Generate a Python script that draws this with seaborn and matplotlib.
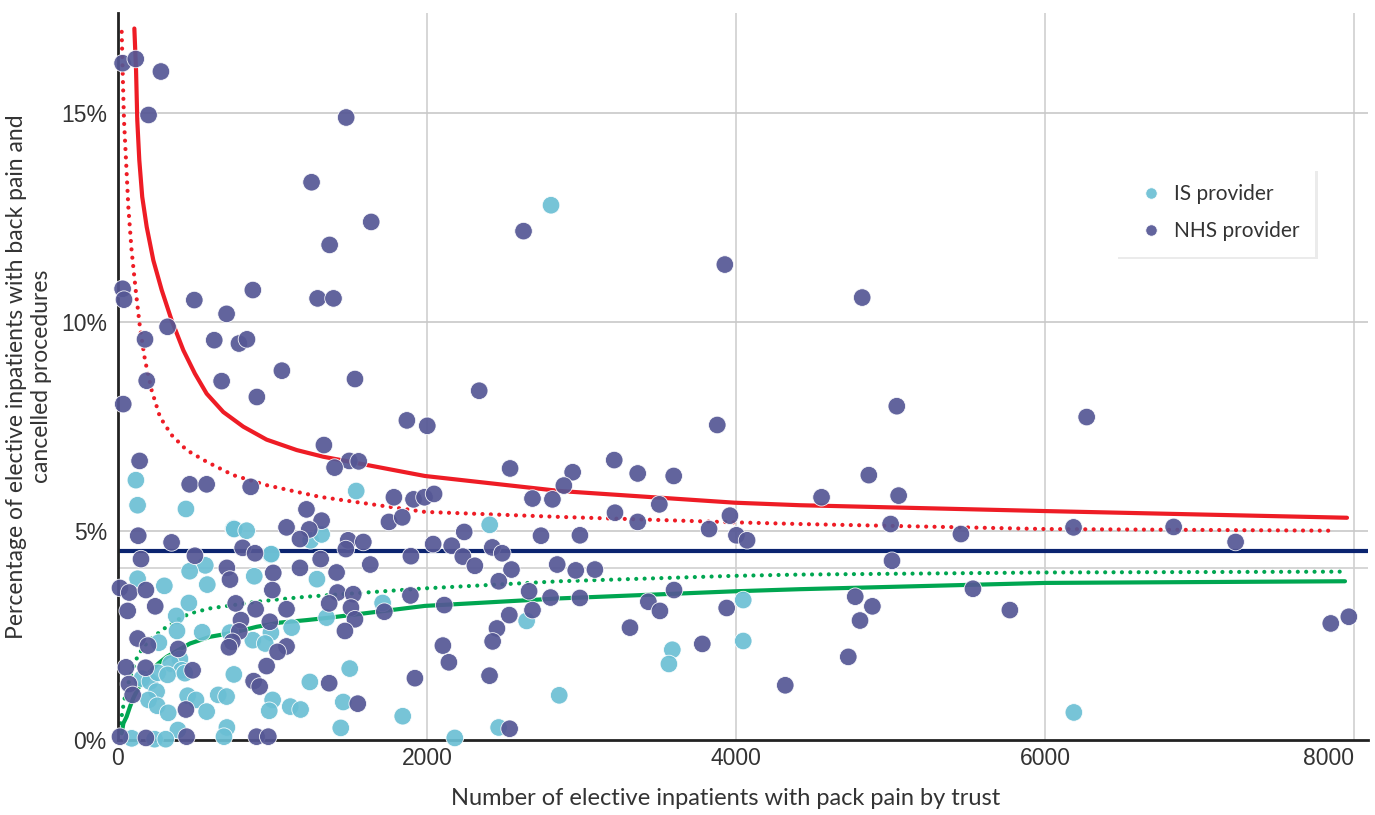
import numpy as np
import pandas as pd
import matplotlib
matplotlib.use("Agg")
import matplotlib.pyplot as plt
import seaborn as sns

# ---- Data ----

# IS providers: (inpatients, % cancelled)
is_n = [2803, 116, 127, 440, 1542, 748, 752, 833, 1247, 1318, 2406, 988, 992, 565, 464,
        882, 127, 1288, 300, 578, 459, 377, 1350, 1713, 382, 545, 725, 990, 1124, 265,
        873, 953, 2645, 4047, 401, 341, 412, 155, 207, 257, 321, 433, 750, 1242, 1500,
        250, 198, 254, 325, 451, 505, 574, 649, 703, 1001, 979, 1115, 1182, 388, 705,
        686, 89, 237, 309, 1458, 1843, 1442, 2464, 2180, 2856, 3588, 3566, 4047, 6187]
is_pct = [12.8, 6.22, 5.62, 5.53, 5.96, 5.06, 5.05, 5.01, 4.78, 4.92, 5.15, 4.44, 4.45, 4.18, 4.04,
          3.92, 3.86, 3.85, 3.69, 3.72, 3.28, 2.97, 2.93, 3.28, 2.61, 2.58, 2.57, 2.57, 2.69, 2.33,
          2.39, 2.31, 2.85, 3.35, 1.94, 1.83, 1.67, 1.47, 1.40, 1.61, 1.56, 1.60, 1.57, 1.39, 1.71,
          1.16, 0.96, 0.82, 0.65, 1.06, 0.96, 0.68, 1.08, 1.04, 0.96, 0.70, 0.80, 0.73, 0.24, 0.30,
          0.08, 0.04, 0.02, 0.02, 0.91, 0.57, 0.29, 0.30, 0.05, 1.07, 2.16, 1.82, 2.37, 0.66]

# NHS providers
nhs_n = [30, 115, 278, 198, 1477, 1253, 1639, 1370, 2625, 3928, 4817,
         30, 39, 494, 703, 873, 1292, 1395,
         321, 175, 623, 783, 835, 1061, 186, 671, 899, 34, 1333, 140, 464, 574, 859,
         1534, 1870, 2002, 2338, 1497, 1558, 1402, 2538, 1786, 1913, 1984, 2046, 2683, 2812,
         3879, 3212, 2943, 3364, 3597, 2886,
         3504, 3217, 3364, 2990, 3961, 3826, 4003, 4072, 2843, 2963, 3087, 2800, 2990, 3599,
         3433, 3508, 3940, 3314, 3782, 4319,
         5041, 6270, 4860, 4554, 5053, 5001, 5456, 6185, 5010, 4772, 4883, 4803, 5534, 5773, 4727,
         6833, 7234, 7850, 7967,
         131, 347, 1091, 1220, 1318, 1238, 1178, 149, 498, 807, 887, 705, 725, 1005, 1178, 1312,
         13, 73, 181, 999, 63, 241, 762, 891, 1091, 796, 983, 785, 127, 194, 390, 740, 718,
         1091, 1033, 962, 52, 179, 483, 878, 917, 71, 95, 440, 13, 181, 444, 897, 973,
         1754, 1840, 2241, 2738, 1490, 1475, 1588, 2040, 2160, 2423, 2487, 1896, 2232, 1633,
         2310, 2547, 1415, 2465, 1421, 1523, 1893, 2661, 1367, 1508, 1724, 1534, 2112, 2683,
         2533, 2453, 1469, 2425, 2103, 2142, 1922, 2405, 1367, 1552, 2535]
nhs_pct = [16.2, 16.3, 16.0, 14.96, 14.9, 13.35, 12.4, 11.85, 12.18, 11.38, 10.59,
           10.8, 10.54, 10.53, 10.2, 10.77, 10.57, 10.57,
           9.89, 9.59, 9.57, 9.49, 9.59, 8.84, 8.6, 8.59, 8.21, 8.04, 7.06, 6.68, 6.12, 6.12, 6.06,
           8.64, 7.65, 7.52, 8.36, 6.68, 6.67, 6.52, 6.5, 5.81, 5.76, 5.81, 5.89, 5.78, 5.76,
           7.54, 6.7, 6.41, 6.38, 6.32, 6.09,
           5.64, 5.44, 5.22, 4.9, 5.37, 5.05, 4.9, 4.78, 4.2, 4.06, 4.08, 3.41, 3.4, 3.59,
           3.31, 3.09, 3.16, 2.69, 2.3, 1.31,
           7.99, 7.73, 6.34, 5.81, 5.85, 5.17, 4.93, 5.09, 4.29, 3.43, 3.2, 2.86, 3.62, 3.11, 1.99,
           5.1, 4.74, 2.79, 2.95,
           4.89, 4.73, 5.09, 5.52, 5.25, 5.04, 4.81, 4.33, 4.41, 4.6, 4.47, 4.12, 3.84, 4.0, 4.12, 4.33,
           3.64, 3.53, 3.59, 3.59, 3.09, 3.2, 3.27, 3.13, 3.13, 2.87, 2.83, 2.6, 2.43, 2.26, 2.18, 2.35, 2.22,
           2.24, 2.11, 1.77, 1.74, 1.73, 1.67, 1.41, 1.28, 1.34, 1.08, 0.73, 0.08, 0.05, 0.08, 0.08, 0.08,
           5.22, 5.33, 4.98, 4.89, 4.78, 4.57, 4.74, 4.69, 4.65, 4.61, 4.47, 4.4, 4.39, 4.2,
           4.17, 4.08, 4.01, 3.8, 3.53, 3.49, 3.46, 3.56, 3.27, 3.17, 3.07, 2.89, 3.23, 3.11,
           2.99, 2.67, 2.61, 2.36, 2.26, 1.86, 1.48, 1.54, 1.36, 0.87, 0.27]

mean_pct = 4.52

# funnel limits, read at points along each curve
upper_998_n = [106, 117, 125, 138, 157, 186, 229, 283, 347, 423, 498, 574, 682, 811, 962,
               1157, 1329, 1502, 1986, 2860, 3993, 4414, 6000, 7955]
upper_998_pct = [17.03, 16.03, 14.83, 13.88, 13.0, 12.28, 11.48, 10.77, 10.05, 9.33, 8.77, 8.29, 7.85, 7.50, 7.19,
                 6.94, 6.78, 6.66, 6.32, 5.96, 5.68, 5.62, 5.48, 5.32]
upper_95_n = [24, 30, 39, 52, 67, 88, 117, 142, 175, 218, 272, 347, 444, 574, 746, 962,
              1157, 1307, 1986, 2860, 3993, 4414, 6000, 7880]
upper_95_pct = [16.95, 16.03, 14.83, 13.88, 12.76, 11.72, 10.69, 9.89, 9.09, 8.37, 7.73, 7.30, 6.94, 6.66, 6.34, 6.10,
                5.94, 5.82, 5.46, 5.34, 5.21, 5.17, 5.05, 5.01]
lower_95_n = [17, 30, 45, 67, 89, 121, 164, 229, 315, 401, 466, 595, 746, 898, 1048, 1221, 1372,
              1986, 2860, 3993, 4414, 6000, 7948]
lower_95_pct = [0.40, 0.72, 1.04, 1.36, 1.63, 1.95, 2.23, 2.47, 2.71, 2.91, 3.03, 3.15, 3.23, 3.31, 3.37, 3.43, 3.47,
                3.63, 3.80, 3.93, 3.96, 4.01, 4.03]
lower_998_n = [24, 35, 56, 78, 99, 131, 164, 207, 261, 315, 390, 466, 595, 746, 898, 1048, 1221, 1372,
               1986, 2860, 3993, 4414, 6000, 7942]
lower_998_pct = [0.16, 0.40, 0.56, 0.80, 1.00, 1.24, 1.44, 1.63, 1.83, 1.99, 2.15, 2.31, 2.47, 2.57, 2.71, 2.81, 2.87, 2.93,
                 3.21, 3.39, 3.56, 3.61, 3.76, 3.80]

x_ticks = [0, 2000, 4000, 6000, 8000]
y_ticks = [0, 5, 10, 15]

# ---- Build table ----
df = pd.DataFrame({
    "n": is_n + nhs_n,
    "pct": is_pct + nhs_pct,
    "provider": ["IS provider"] * len(is_n) + ["NHS provider"] * len(nhs_n),
})

sns.set_style("white")
plt.rcParams["font.family"] = ["Lato", "DejaVu Sans"]
plt.rcParams["text.color"] = "#333333"

fig = plt.figure(figsize=(13.75, 8.15), dpi=100)
ax = fig.add_axes([0.0858, 0.092, 0.909, 0.892])

# grid
for x in x_ticks[1:]:
    ax.axvline(x, color="#d0d0d0", lw=1.2, zorder=0)
for y in y_ticks[1:]:
    ax.axhline(y, color="#c8c8c8", lw=1.2, zorder=0)
ax.axhline(4.11, color="#d0d0d0", lw=1.2, zorder=0)

# funnel lines
red = "#ee1c25"
green = "#00a651"
sns.lineplot(x=upper_998_n, y=upper_998_pct, color=red, lw=3, ax=ax, zorder=2, sort=False)
sns.lineplot(x=lower_998_n, y=lower_998_pct, color=green, lw=3, ax=ax, zorder=2, sort=False)
sns.lineplot(x=upper_95_n, y=upper_95_pct, color=red, lw=3, ax=ax, zorder=2, sort=False)
sns.lineplot(x=lower_95_n, y=lower_95_pct, color=green, lw=3, ax=ax, zorder=2, sort=False)
for line in ax.lines[-2:]:
    line.set_dashes((0.01, 2.0))
    line.set_dash_capstyle("round")
    line.set_solid_joinstyle("round")
for line in ax.lines[-4:-2]:
    line.set_solid_joinstyle("round")
ax.axhline(mean_pct, color="#0b2470", lw=3, zorder=2)

# scatter
sns.scatterplot(data=df, x="n", y="pct", hue="provider",
                hue_order=["IS provider", "NHS provider"],
                palette={"IS provider": "#6bbfd4", "NHS provider": "#555795"},
                s=160, alpha=0.92, edgecolor="white", linewidth=0.6,
                ax=ax, zorder=3, clip_on=False)

ax.set_xlim(0, 8090)
ax.set_ylim(0, 17.4)
ax.set_xticks(x_ticks)
ax.set_yticks(y_ticks)
ax.set_yticklabels([f"{v}%" for v in y_ticks])
ax.tick_params(axis="both", length=0, colors="#333333")
ax.tick_params(axis="x", pad=5)
ax.tick_params(axis="y", pad=8)
for lab in ax.get_xticklabels() + ax.get_yticklabels():
    lab.set_fontfamily(["Liberation Sans", "DejaVu Sans"])
    lab.set_fontsize(16.5)
ax.get_xticklabels()[-1].set_horizontalalignment("right")

for side in ["top", "right"]:
    ax.spines[side].set_visible(False)
for side in ["left", "bottom"]:
    ax.spines[side].set_color("#222222")
    ax.spines[side].set_linewidth(2)

ax.set_xlabel("Number of elective inpatients with pack pain by trust", fontsize=17, color="#333333")
ax.xaxis.set_label_coords(0.486, -0.066)
ax.set_ylabel("Percentage of elective inpatients with back pain and\ncancelled procedures",
              fontsize=16.5, color="#333333")
ax.yaxis.set_label_coords(-0.053, 0.5)

leg = ax.legend(loc="upper left", bbox_to_anchor=(0.7976, 0.786), borderaxespad=0, fontsize=15,
                frameon=True, fancybox=False, edgecolor="white",
                shadow={"ox": 2, "oy": -2, "color": "#ebebeb", "alpha": 1},
                handletextpad=0.1, borderpad=0.75, labelspacing=0.8, markerscale=0.65)
leg.get_frame().set_linewidth(0)

fig.savefig("out.png", dpi=100)
